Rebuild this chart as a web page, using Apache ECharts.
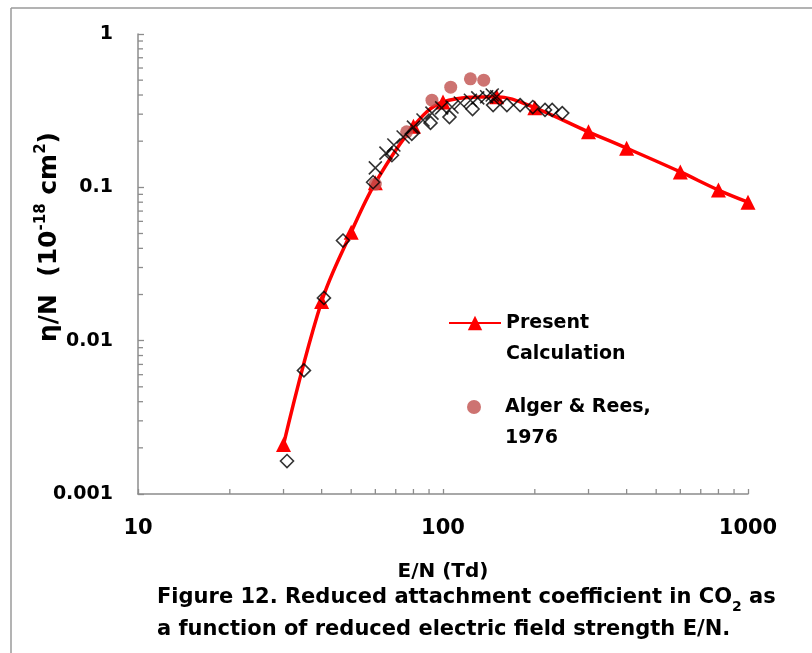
<!DOCTYPE html>
<html><head><meta charset="utf-8">
<script src="https://cdn.jsdelivr.net/npm/echarts@6/dist/echarts.min.js"></script>
<style>html,body{margin:0;padding:0;background:#fff}#c{width:812px;height:653px}</style>
</head><body><div id="c"></div>
<script>
// ---- data ----
const presentE = [30, 40, 50, 60, 80, 100, 150, 200, 300, 400, 600, 800, 1000];
const presentV = [0.0021, 0.018, 0.051, 0.107, 0.25, 0.36, 0.39, 0.33, 0.23, 0.18, 0.126, 0.096, 0.080];
const algerE = [60, 76, 92, 106, 123, 136];
const algerV = [0.105, 0.23, 0.37, 0.45, 0.51, 0.50];
const diaE = [30.8, 35, 40.7, 47, 59, 68, 79, 91, 105, 125, 146, 162, 179, 197, 216, 228, 246];
const diaV = [0.00164, 0.0064, 0.019, 0.045, 0.108, 0.162, 0.223, 0.263, 0.287, 0.324, 0.344, 0.344, 0.344, 0.334, 0.32, 0.32, 0.305];
const crossE = [60, 65, 69, 74, 80, 86, 92, 99, 107, 114, 123, 130, 139, 145, 150];
const crossV = [0.134, 0.167, 0.189, 0.213, 0.247, 0.275, 0.305, 0.33, 0.334, 0.355, 0.37, 0.383, 0.39, 0.40, 0.39];
const xTicks = [10, 100, 1000];
const yTicks = [0.001, 0.01, 0.1, 1];
const xMinor = [20, 30, 40, 50, 60, 70, 80, 90, 200, 300, 400, 500, 600, 700, 800, 900];
const yMinor = [0.002,0.003,0.004,0.005,0.006,0.007,0.008,0.009,0.02,0.03,0.04,0.05,0.06,0.07,0.08,0.09,0.2,0.3,0.4,0.5,0.6,0.7,0.8,0.9];
const seriesNames = ['Present Calculation', 'Alger & Rees, 1976'];
const legendLabels = ['\nPresent\nCalculation', '\nAlger & Rees,\n1976'];

const FONT = 'DejaVu Sans';
const AX = '#8c8c8c';
const zip = (a, b) => a.map((v, i) => [v, b[i]]);

const chart = echarts.init(document.getElementById('c'), null, {renderer: 'canvas'});
const tickStyle = {stroke: AX, lineWidth: 1.3};
const legendBase = {
  orient: 'vertical', padding: 0, itemGap: 0, itemWidth: 52,
  textStyle: {fontFamily: FONT, fontWeight: 'bold', fontSize: 19, lineHeight: 31, color: '#000'},
  formatter: n => legendLabels[seriesNames.indexOf(n)],
  selectedMode: false
};
chart.setOption({
  animation: false,
  backgroundColor: '#fff',
  grid: {left: 138, right: 64, top: 34, bottom: 159},
  title: {
    left: 157, top: 582, padding: 0,
    text: 'Figure 12. Reduced attachment coefficient in CO{sub|2} as\na function of reduced electric field strength E/N.',
    textStyle: {fontFamily: FONT, fontWeight: 'bold', fontSize: 21, lineHeight: 32, color: '#000',
      rich: {sub: {fontFamily: FONT, fontWeight: 'bold', fontSize: 14, lineHeight: 14, verticalAlign: 'bottom', color: '#000'}}}
  },
  legend: [
    Object.assign({}, legendBase, {left: 448, top: 276.5, itemHeight: 18, data: [seriesNames[0]]}),
    Object.assign({}, legendBase, {left: 467, top: 360.5, itemHeight: 14, icon: 'circle', data: [seriesNames[1]]})
  ],
  xAxis: {
    type: 'log', logBase: 10, min: 10, max: 1000,
    name: 'E/N (Td)', nameLocation: 'middle', nameGap: 68, nameMoveOverlap: false,
    nameTextStyle: {fontFamily: FONT, fontWeight: 'bold', fontSize: 20, color: '#000'},
    axisLine: {lineStyle: {color: AX, width: 1.5}},
    axisTick: {inside: true, length: 5, lineStyle: {color: AX, width: 1.3}},
    splitLine: {show: false},
    axisLabel: {margin: 24, fontFamily: FONT, fontWeight: 'bold', fontSize: 21, color: '#000',
      formatter: v => xTicks.includes(v) ? String(v) : ''}
  },
  yAxis: {
    type: 'log', logBase: 10, min: 0.001, max: 1,
    name: 'η/N  (10{sup|-18} cm{sup|2})', nameLocation: 'middle', nameGap: 74, nameRotate: 90, nameMoveOverlap: false,
    nameTextStyle: {fontFamily: FONT, fontWeight: 'bold', fontSize: 25, lineHeight: 30, color: '#000', padding: [0, 0, 0, 54],
      rich: {sup: {fontFamily: FONT, fontWeight: 'bold', fontSize: 15, lineHeight: 16, verticalAlign: 'top', color: '#000'}}},
    axisLine: {lineStyle: {color: AX, width: 1.5}},
    axisTick: {inside: true, length: 6, lineStyle: {color: AX, width: 1.3}},
    splitLine: {show: false},
    axisLabel: {margin: 25, fontFamily: FONT, fontWeight: 'bold', fontSize: 19, color: '#000',
      formatter: v => { const t = yTicks.find(k => Math.abs(k - v) / k < 1e-6); return t === undefined ? '' : String(t); }}
  },
  graphic: [
    {type: 'line', shape: {x1: 11, y1: 8, x2: 11, y2: 653}, style: {stroke: '#9a9a9a', lineWidth: 1.5}, silent: true},
    {type: 'line', shape: {x1: 11, y1: 8, x2: 812, y2: 8}, style: {stroke: '#9a9a9a', lineWidth: 1.5}, silent: true}
  ],
  series: [
    {type: 'custom', silent: true, z: 1, data: xMinor.map(v => [v, 0.001]),
      renderItem: (p, api) => { const c = api.coord([api.value(0), api.value(1)]);
        return {type: 'line', shape: {x1: c[0], y1: c[1], x2: c[0], y2: c[1] - 5}, style: tickStyle}; }},
    {type: 'custom', silent: true, z: 1, data: yMinor.map(v => [10, v]),
      renderItem: (p, api) => { const c = api.coord([api.value(0), api.value(1)]);
        return {type: 'line', shape: {x1: c[0], y1: c[1], x2: c[0] + 5, y2: c[1]}, style: tickStyle}; }},
    {name: seriesNames[0], type: 'line', z: 2, data: zip(presentE, presentV), smooth: 0.35,
      symbol: 'triangle', symbolSize: 15, showSymbol: true,
      lineStyle: {color: '#ff0000', width: 3.5}, itemStyle: {color: '#ff0000'}},
    {name: seriesNames[1], type: 'scatter', z: 3, data: zip(algerE, algerV), symbol: 'circle', symbolSize: 13,
      itemStyle: {color: '#c0504d'}},
    {name: 'diamonds', type: 'scatter', z: 4, data: zip(diaE, diaV), symbol: 'diamond', symbolSize: 13,
      itemStyle: {color: 'rgba(0,0,0,0)', borderColor: '#000', borderWidth: 1.6}},
    {name: 'crosses', type: 'scatter', z: 5, data: zip(crossE, crossV), symbol: 'path://M0,0L10,10M10,0L0,10', symbolSize: 13,
      itemStyle: {color: 'rgba(0,0,0,0)', borderColor: '#000', borderWidth: 1.6}}
  ]
});
</script></body></html>
